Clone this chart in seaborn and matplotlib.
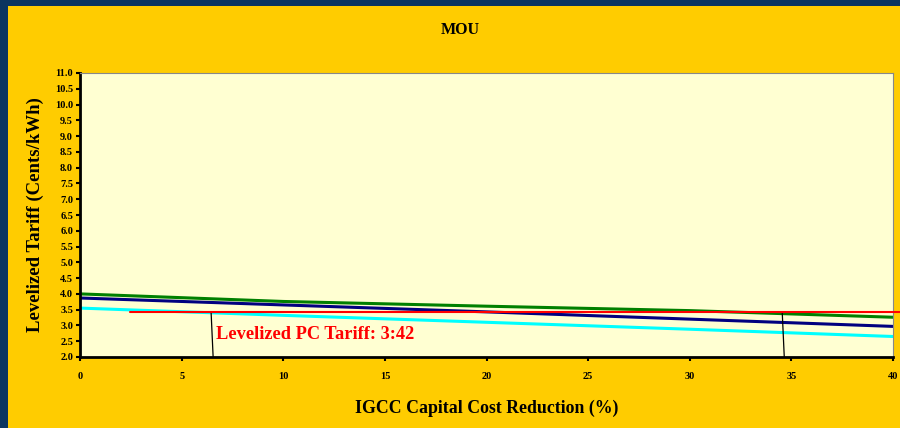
import matplotlib
matplotlib.use("Agg")
import matplotlib.pyplot as plt
import seaborn as sns
import pandas as pd
from matplotlib.patches import Rectangle

# Data
reduction = [0, 10, 20, 30, 40]
igcc_green = [4.00, 3.76, 3.61, 3.47, 3.26]
igcc_navy = [3.87, 3.65, 3.43, 3.20, 2.97]
igcc_cyan = [3.55, 3.32, 3.10, 2.88, 2.65]
pc_tariff = 3.42
pc_x = [2.45, 40.4]
cross_x = [6.5, 34.6]
yticks = [2.0 + 0.5 * i for i in range(19)]
xticks = [0, 5, 10, 15, 20, 25, 30, 35, 40]

sns.set_theme(style="white")
plt.rcParams['font.family'] = ['Liberation Serif', 'DejaVu Serif']
plt.rcParams['font.weight'] = 'bold'
plt.rcParams['text.color'] = 'black'
plt.rcParams['axes.labelcolor'] = 'black'
plt.rcParams['xtick.color'] = 'black'
plt.rcParams['ytick.color'] = 'black'

fig = plt.figure(figsize=(9, 4.28), dpi=100, facecolor='#0b3560')
fig.patches.append(Rectangle((8/900, 0), 1 - 8/900, 1 - 6/428, transform=fig.transFigure,
                             facecolor='#FFCC00', edgecolor='none', zorder=-10))

ax = fig.add_axes([80/900, (428-357)/428, (893-80)/900, (357-73)/428])
ax.set_zorder(5)
ax.set_facecolor('#FFFFD2')

df = pd.DataFrame({'x': reduction, 'g': igcc_green, 'n': igcc_navy, 'c': igcc_cyan})
sns.lineplot(data=df, x='x', y='g', ax=ax, color='#008000', linewidth=2.2)
sns.lineplot(data=df, x='x', y='n', ax=ax, color='#000080', linewidth=2.2)
sns.lineplot(data=df, x='x', y='c', ax=ax, color='#00FFFF', linewidth=2.2)
ax.plot(pc_x, [pc_tariff, pc_tariff], color='#FF0000', linewidth=1.5, clip_on=False, zorder=5)
for cx in cross_x:
    ax.plot([cx - 0.05, cx + 0.05], [pc_tariff, 2.0], color='black', linewidth=0.9, zorder=4)

ax.text(6.7, 2.70, 'Levelized PC Tariff: 3:42', color='#FF0000', fontsize=13.2,
        fontweight='bold', va='center', ha='left')

ax.set_xlim(0, 40)
ax.set_ylim(2.0, 11.0)
ax.set_xticks(xticks)
ax.set_yticks(yticks)
ax.set_xticklabels([str(t) for t in xticks], fontsize=7.5, fontweight='bold', color='black')
ax.set_yticklabels([f'{t:.1f}' for t in yticks], fontsize=7.5, fontweight='bold', color='black')
ax.tick_params(axis='both', which='major', direction='out', length=3, width=1.5,
               color='black', bottom=True, left=True, pad=2)
ax.tick_params(axis='x', pad=8)

for s in ['left', 'bottom']:
    ax.spines[s].set_color('black')
    ax.spines[s].set_linewidth(2)
for s in ['top', 'right']:
    ax.spines[s].set_color('#888888')
    ax.spines[s].set_linewidth(0.8)

ax.set_xlabel('IGCC Capital Cost Reduction (%)', fontsize=12.8, fontweight='bold',
              labelpad=13, color='black')
ax.set_ylabel('Levelized Tariff (Cents/kWh)', fontsize=13.5, fontweight='bold',
              labelpad=8, color='black')

fig.text(460/900, 1 - 30/428, 'MOU', ha='center', va='center', fontsize=11.5,
         fontweight='bold', color='black')

fig.savefig('out.png', dpi=100, facecolor=fig.get_facecolor())
